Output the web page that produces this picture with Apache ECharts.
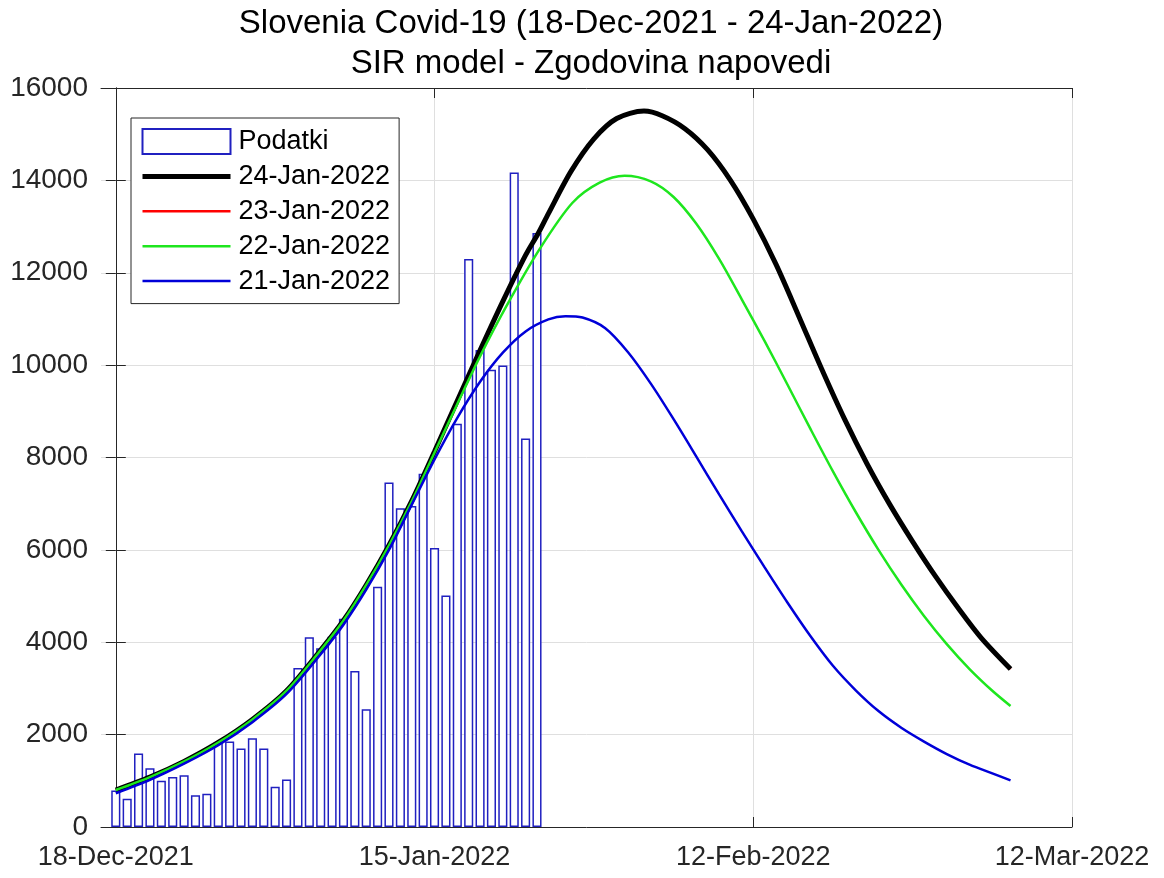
<!DOCTYPE html>
<html>
<head>
<meta charset="utf-8">
<script src="https://cdn.jsdelivr.net/npm/echarts@6/dist/echarts.min.js"></script>
<style>
html,body{margin:0;padding:0;background:#fff;}
#chart{width:1164px;height:878px;}
</style>
</head>
<body>
<div id="chart"></div>
<script>
// ---- Data (days counted from 18-Dec-2021) ----
const titleLines = ['Slovenia Covid-19 (18-Dec-2021 - 24-Jan-2022)', 'SIR model - Zgodovina napovedi'];
const tickDays = [0, 28, 56, 84];
const tickLabels = ['18-Dec-2021', '15-Jan-2022', '12-Feb-2022', '12-Mar-2022'];
const seriesNames = ['Podatki', '24-Jan-2022', '23-Jan-2022', '22-Jan-2022', '21-Jan-2022'];

// daily cases, 18-Dec-2021 .. 24-Jan-2022
const barValues = [790, 610, 1590, 1270, 1000, 1080, 1120, 690, 720, 1830,
  1850, 1700, 1920, 1700, 870, 1030, 3440, 4110, 3870, 4120,
  4510, 3380, 2550, 5200, 7460, 6900, 6950, 7650, 6040, 5010,
  8730, 12300, 10330, 9900, 9990, 14170, 8410, 12860];

// forecast 24-Jan-2022
const jan24Days = [0, 3, 6, 9, 12, 15, 18, 20, 22, 24, 26, 28, 30, 32, 34, 36, 37.1, 38, 40, 42, 44, 46.4, 48, 50, 52, 54, 56, 58, 60, 62, 64, 66, 68, 70, 72, 74, 76, 78.6];
const jan24Vals = [800, 1080, 1420, 1830, 2330, 2950, 3830, 4470, 5240, 6100, 7060, 8130, 9230, 10320, 11380, 12380, 12850, 13280, 14200, 14900, 15340, 15500, 15400, 15120, 14660, 14000, 13160, 12180, 11060, 9920, 8840, 7860, 6980, 6180, 5430, 4740, 4100, 3420];

// forecast 23-Jan-2022 (hidden under 24-Jan curve)
const jan23Days = [0, 3, 6, 9, 12, 15, 18, 20, 22, 24, 26, 28, 30, 32, 34, 36, 37.1, 38, 40, 42, 44, 46.4, 48, 50, 52, 54, 56, 58, 60, 62, 64, 66, 68, 70, 72, 74, 76, 78.6];
const jan23Vals = [800, 1080, 1420, 1830, 2330, 2950, 3830, 4470, 5240, 6100, 7060, 8130, 9230, 10320, 11380, 12380, 12850, 13280, 14200, 14900, 15340, 15500, 15400, 15120, 14660, 14000, 13160, 12180, 11060, 9920, 8840, 7860, 6980, 6180, 5430, 4740, 4100, 3420];

// forecast 22-Jan-2022
const jan22Days = [0, 3, 6, 9, 12, 15, 18, 20, 22, 24, 26, 28, 30, 32, 34.3, 37.2, 40.1, 42.5, 44.7, 47, 49, 51, 53, 55, 57, 59, 61, 63, 65, 67, 69, 71, 73, 75, 77, 78.6];
const jan22Vals = [800, 1080, 1420, 1830, 2330, 2950, 3830, 4470, 5240, 6100, 7050, 8110, 9160, 10190, 11270, 12500, 13510, 13950, 14100, 13980, 13640, 13060, 12300, 11420, 10520, 9580, 8630, 7700, 6820, 6000, 5250, 4570, 3960, 3420, 2950, 2620];

// forecast 21-Jan-2022
const jan21Days = [0, 3, 6, 9, 12, 15, 18, 20, 22, 24, 26, 28, 30, 32, 34, 36, 38, 39.5, 41, 43, 45, 47, 49, 51, 53, 55, 57, 59, 61, 63, 65, 67, 69, 71, 73, 75, 77, 78.6];
const jan21Vals = [730, 1020, 1370, 1770, 2270, 2880, 3740, 4380, 5140, 6000, 6980, 7960, 8860, 9640, 10270, 10730, 10990, 11060, 11030, 10800, 10280, 9600, 8830, 8020, 7200, 6400, 5620, 4860, 4140, 3490, 2960, 2510, 2150, 1850, 1580, 1350, 1160, 1010];

const pairs = (xs, ys) => xs.map((x, i) => [x, ys[i]]);
const barData = barValues.map((v, i) => [i, v]);

const axisColor = '#262626';
const gridColor = '#dfdfdf';
const fontFamily = '"Liberation Sans", Arial, Helvetica, sans-serif';
const lineColors = {'24-Jan-2022': '#000000', '23-Jan-2022': '#ff0000', '22-Jan-2022': '#1ee61e', '21-Jan-2022': '#0000d8'};
const lineWidths = {'24-Jan-2022': 5, '23-Jan-2022': 2.5, '22-Jan-2022': 2.5, '21-Jan-2022': 2.5};

const chart = echarts.init(document.getElementById('chart'), null, {renderer: 'canvas'});

const lineSeries = (name, xs, ys, z) => ({
  name: name,
  type: 'line',
  data: pairs(xs, ys),
  showSymbol: false,
  symbol: 'none',
  smooth: 0.3,
  lineStyle: {color: lineColors[name], width: lineWidths[name]},
  itemStyle: {color: lineColors[name]},
  z: z,
  animation: false
});

const option = {
  animation: false,
  backgroundColor: '#ffffff',
  title: {
    text: titleLines.join('\n'),
    left: 586,
    textAlign: 'center',
    top: -1,
    textStyle: {fontFamily: fontFamily, fontSize: 33, fontWeight: 'normal', color: '#000', lineHeight: 40}
  },
  grid: {left: 101, right: 92, top: 88, bottom: 51, containLabel: false},
  legend: {
    data: seriesNames.map((n, i) => i === 0
      ? {name: n, icon: 'rect'}
      : {name: n, itemStyle: {opacity: 0, borderWidth: 0}, lineStyle: {width: lineWidths[n], color: lineColors[n]}}),
    orient: 'vertical',
    left: 131,
    top: 118,
    padding: [10, 9, 9, 9],
    itemWidth: 88,
    itemHeight: 25,
    itemGap: 7.9,
    backgroundColor: '#ffffff',
    borderColor: axisColor,
    borderWidth: 1,
    textStyle: {fontFamily: fontFamily, fontSize: 27, color: '#000', lineHeight: 25, padding: [0, 0, 0, 3]},
    selectedMode: false
  },
  xAxis: [{
    type: 'value',
    min: -1.3,
    max: 84,
    position: 'bottom',
    axisLine: {show: true, onZero: false, lineStyle: {color: axisColor, width: 1}},
    axisTick: {show: true, inside: true, length: 10, customValues: tickDays, lineStyle: {color: axisColor}},
    axisLabel: {
      show: true, customValues: tickDays, margin: 17,
      fontFamily: fontFamily, fontSize: 27, color: axisColor,
      formatter: function (v) { const k = tickDays.indexOf(Math.round(v)); return k >= 0 ? tickLabels[k] : ''; }
    },
    splitLine: {show: true, lineStyle: {color: gridColor, width: 1}}
  }, {
    type: 'value',
    min: -1.3,
    max: 84,
    position: 'top',
    axisLine: {show: true, onZero: false, lineStyle: {color: axisColor, width: 1}},
    axisTick: {show: true, inside: true, length: 10, customValues: tickDays, lineStyle: {color: axisColor}},
    axisLabel: {show: false},
    splitLine: {show: false}
  }],
  yAxis: [{
    type: 'value',
    min: 0,
    max: 16000,
    interval: 2000,
    position: 'left',
    axisLine: {show: true, lineStyle: {color: axisColor, width: 1}},
    axisTick: {show: true, inside: true, length: 10, lineStyle: {color: axisColor}},
    axisLabel: {margin: 13, fontFamily: fontFamily, fontSize: 28, color: axisColor, formatter: function (v) { return String(v); }},
    splitLine: {show: true, lineStyle: {color: gridColor, width: 1}}
  }, {
    type: 'value',
    min: 0,
    max: 16000,
    interval: 2000,
    position: 'right',
    axisLine: {show: true, lineStyle: {color: axisColor, width: 1}},
    axisTick: {show: true, inside: true, length: 10, lineStyle: {color: axisColor}},
    axisLabel: {show: false},
    splitLine: {show: false}
  }],
  series: [
    {
      name: seriesNames[0],
      type: 'bar',
      data: barData,
      barWidth: '80%',
      itemStyle: {color: '#ffffff', borderColor: '#2020c0', borderWidth: 1.5},
      z: 2,
      animation: false
    },
    lineSeries(seriesNames[2], jan23Days, jan23Vals, 3),
    lineSeries(seriesNames[1], jan24Days, jan24Vals, 4),
    lineSeries(seriesNames[3], jan22Days, jan22Vals, 5),
    lineSeries(seriesNames[4], jan21Days, jan21Vals, 6)
  ]
};
chart.setOption(option);
</script>
</body>
</html>
